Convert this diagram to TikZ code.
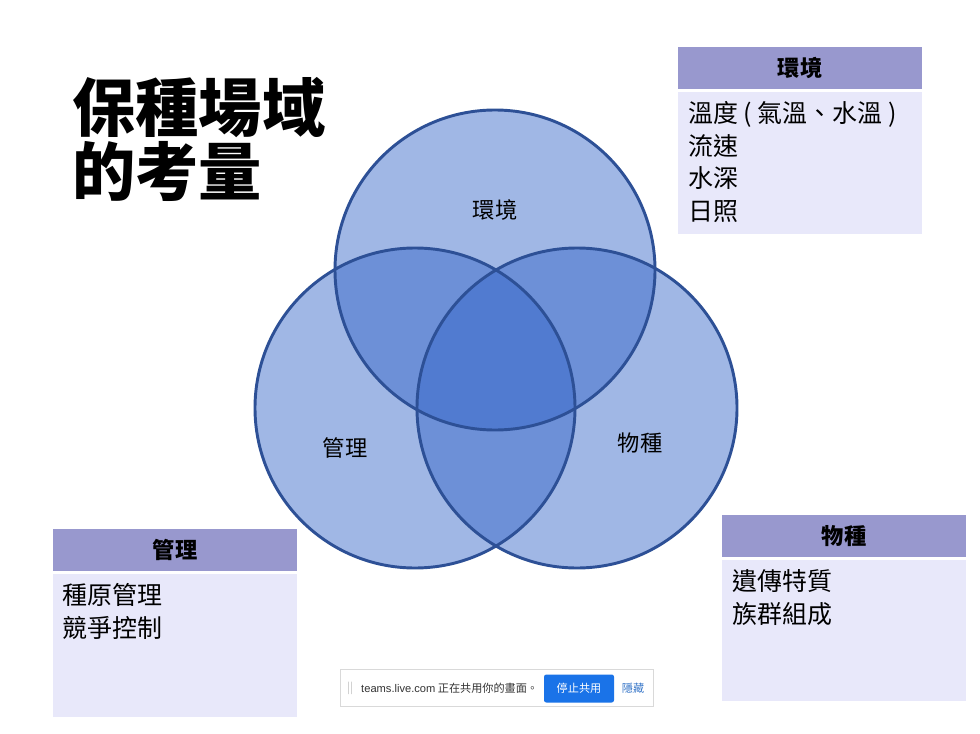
\documentclass[tikz,border=0pt]{standalone}
\usepackage{fontspec}
\setmainfont{Noto Sans CJK TC}
\newfontfamily\latinfont{Liberation Sans}
\usetikzlibrary{positioning}

\definecolor{vennfill}{RGB}{50,100,200}
\definecolor{venndraw}{RGB}{45,80,150}
\definecolor{headfill}{RGB}{152,152,206}
\definecolor{bodyfill}{RGB}{232,232,250}
\definecolor{stopblue}{RGB}{26,115,232}

\tikzset{
  vennarea/.style={fill=vennfill, fill opacity=0.46},
  vennline/.style={draw=venndraw, line width=2.5},
  vennlabel/.style={font=\fontsize{19}{22}\selectfont},
  headbox/.style={fill=headfill, minimum width=7.32cm, minimum height=1.26cm,
    inner sep=0pt, font=\fontsize{19}{22}\selectfont\bfseries},
  bodybox/.style={fill=bodyfill, minimum width=7.32cm, inner sep=0pt},
  listtext/.style={align=left, anchor=north west, inner sep=0pt,
    font=\fontsize{21.3}{28}\selectfont}
}

\begin{document}
\begin{tikzpicture}[x=0.03cm,y=-0.03cm]
\useasboundingbox (0,0) rectangle (980,734);
\fill [white] (0,0) rectangle (980,734);

% title
\node [anchor=north west, align=left, inner sep=0pt,
  font=\fontsize{54}{55}\selectfont\bfseries] (title) at (72,77) {保種場域\\的考量};

% venn circles
\coordinate (env) at (495,270);
\coordinate (mgmt) at (415,408);
\coordinate (spec) at (577,408);
\fill [vennarea] (env) circle [radius=160];
\fill [vennarea] (mgmt) circle [radius=160];
\fill [vennarea] (spec) circle [radius=160];
\draw [vennline] (env) circle [radius=160];
\draw [vennline] (mgmt) circle [radius=160];
\draw [vennline] (spec) circle [radius=160];
\node [vennlabel] (envlabel) at (495,210) {環境};
\node [vennlabel] (mgmtlabel) at (345,448) {管理};
\node [vennlabel] (speclabel) at (640,443) {物種};

% environment box
\node [headbox, anchor=north west] (envhead) at (678,47) {環境};
\node [bodybox, minimum height=4.26cm, below=0.06cm of envhead] (envbody) {};
\node [listtext] (envlist) at (688,101) {溫度 ( 氣溫、水溫 )\\流速\\水深\\日照};

% management box
\node [headbox, anchor=north west] (mgmthead) at (53,529) {管理};
\node [bodybox, minimum height=4.29cm, below=0.06cm of mgmthead] (mgmtbody) {};
\node [listtext] (mgmtlist) at (62,583) {種原管理\\競爭控制};

% species box
\node [headbox, anchor=north west] (spechead) at (722,515) {物種};
\node [bodybox, minimum height=4.23cm, below=0.06cm of spechead] (specbody) {};
\node [listtext] (speclist) at (732,569) {遺傳特質\\族群組成};

% sharing bar
\node [draw=gray!30, fill=white, anchor=north west, minimum width=9.39cm,
  minimum height=1.11cm, inner sep=0pt] (bar) at (340,669) {};
\node [text=gray!50, font=\fontsize{9.5}{10}\selectfont, anchor=west, inner sep=0pt]
  (grip) at (347,688) {||};
\node [font=\fontsize{9.5}{10}\selectfont, text=black!80, anchor=west, inner sep=0pt]
  (bartext) at (361,688) {{\latinfont teams.live.com} 正在共用你的畫面。};
\node [fill=stopblue, text=white, rounded corners=2pt, minimum width=2.1cm,
  minimum height=0.84cm, inner sep=0pt, font=\fontsize{9.5}{10}\selectfont]
  (stopbtn) at (579,688.5) {停止共用};
\node [text=stopblue!70!gray, font=\fontsize{9.5}{10}\selectfont, inner sep=0pt]
  (hidebtn) at (633,688) {隱藏};
\end{tikzpicture}
\end{document}
